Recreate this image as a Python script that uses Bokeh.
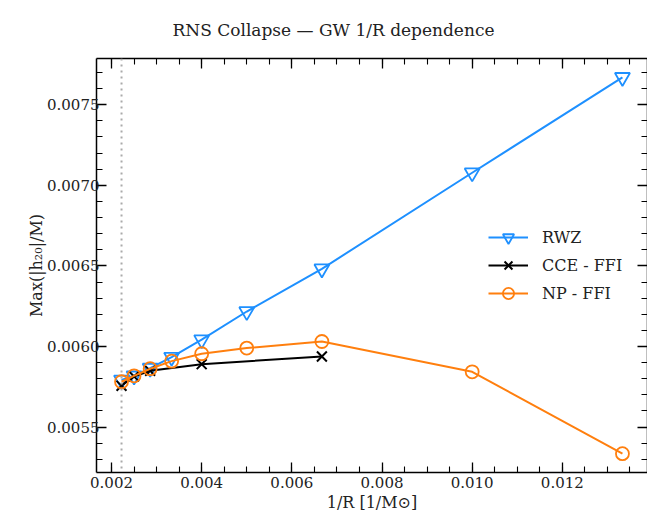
from bokeh.plotting import figure
from bokeh.models import (Span, Legend, LegendItem, LinearAxis, Range1d,
                          SingleIntervalTicker, PrintfTickFormatter, CustomJSTickFormatter)
from bokeh.embed import file_html
from bokeh.resources import INLINE

# ---- data ----
inv_r = [1/450, 1/400, 1/350, 1/300, 1/250, 1/200, 1/150, 1/100, 1/75]
rwz = [0.005792, 0.005818, 0.005866, 0.005934, 0.006042, 0.006217, 0.006482, 0.007078, 0.007670]
np_ffi = [0.005781, 0.005818, 0.005862, 0.005909, 0.005955, 0.005990, 0.006031, 0.005843, 0.005335]
cce_x = [1/450, 1/400, 1/350, 1/250, 1/150]
cce = [0.005756, 0.005814, 0.005849, 0.005890, 0.005938]
extraction_line = 1/450
x_tick_labels = ["0.002", "0.004", "0.006", "0.008", "0.010", "0.012"]
y_tick_labels = ["0.0055", "0.0060", "0.0065", "0.0070", "0.0075"]
title_text = "RNS Collapse \u2014 GW 1/R dependence"

BLUE = "#1E90FF"
ORANGE = "#FF7F0E"
BLACK = "#000000"
FONT = "DejaVu Serif"

p = figure(width=647, height=520, output_backend="svg", toolbar_location=None,
           x_range=Range1d(0.001667, 0.013889), y_range=Range1d(0.005218, 0.007787),
           x_axis_location=None, y_axis_location=None,
           min_border_left=96, min_border_right=0, min_border_top=58, min_border_bottom=48)
p.grid.visible = False
p.outline_line_color = None
p.background_fill_color = "white"
p.border_fill_color = "white"

def make_axis(kind, labelled, label=None):
    ax = LinearAxis()
    if kind == "x":
        ax.ticker = SingleIntervalTicker(interval=0.002, num_minor_ticks=4)
        ax.formatter = PrintfTickFormatter(format="%.3f")
    else:
        ax.ticker = SingleIntervalTicker(interval=0.0005, num_minor_ticks=5)
        ax.formatter = PrintfTickFormatter(format="%.4f")
    ax.axis_line_color = "black"
    ax.axis_line_width = 1.5
    ax.major_tick_in = 10
    ax.major_tick_out = 0
    ax.minor_tick_in = 6
    ax.minor_tick_out = 0
    ax.major_tick_line_width = 1.3
    ax.minor_tick_line_width = 1.1
    ax.major_tick_line_color = "black"
    ax.minor_tick_line_color = "black"
    if labelled:
        ax.major_label_text_font = FONT
        ax.major_label_text_font_size = "15px"
        ax.major_label_text_color = "#222222"
        ax.major_label_standoff = 4 if kind == "x" else -3
        if label:
            ax.axis_label = label
            ax.axis_label_text_font = FONT
            ax.axis_label_text_font_size = "16px"
            ax.axis_label_text_font_style = "normal"
            ax.axis_label_text_color = "#222222"
            ax.axis_label_standoff = 2 if kind == "x" else -2
    else:
        ax.formatter = CustomJSTickFormatter(code="return ''")
        ax.major_label_standoff = -20
    return ax

p.add_layout(make_axis("x", True, "1/R [1/M\u2299]"), "below")
p.add_layout(make_axis("y", True, "Max(|h\u2082\u2080|/M)"), "left")
p.add_layout(make_axis("x", False), "above")
p.add_layout(make_axis("y", False), "right")

p.add_layout(Span(location=extraction_line, dimension="height", line_color="#aaaaaa",
                  line_width=2, line_dash="2 4"))

l1 = p.line(inv_r, rwz, line_color=BLUE, line_width=2)
m1 = p.scatter(inv_r, rwz, marker="inverted_triangle", size=15, line_color=BLUE,
               line_width=1.8, fill_alpha=0)
l2 = p.line(cce_x, cce, line_color=BLACK, line_width=2)
m2 = p.scatter(cce_x, cce, marker="x", size=14, line_color=BLACK, line_width=2)
l3 = p.line(inv_r, np_ffi, line_color=ORANGE, line_width=2)
m3 = p.scatter(inv_r, np_ffi, marker="circle", size=13, line_color=ORANGE,
               line_width=1.8, fill_alpha=0)

legend = Legend(items=[LegendItem(label="RWZ", renderers=[l1, m1]),
                       LegendItem(label="CCE - FFI", renderers=[l2, m2]),
                       LegendItem(label="NP - FFI", renderers=[l3, m3])],
                location=(392, 165), border_line_color=None, background_fill_alpha=0,
                padding=0, margin=0, spacing=0, glyph_width=40, glyph_height=28,
                label_height=28, label_standoff=14,
                label_text_font=FONT, label_text_font_size="16px", label_text_color="#222222")
p.add_layout(legend)

p.title.text = title_text
p.title.text_font = FONT
p.title.text_font_size = "17px"
p.title.text_font_style = "normal"
p.title.text_color = "#222222"
p.title.align = "left"
p.title.offset = 76
p.title.vertical_align = "top"
p.title.standoff = 34

open("out.html", "w").write(file_html(p, INLINE))
